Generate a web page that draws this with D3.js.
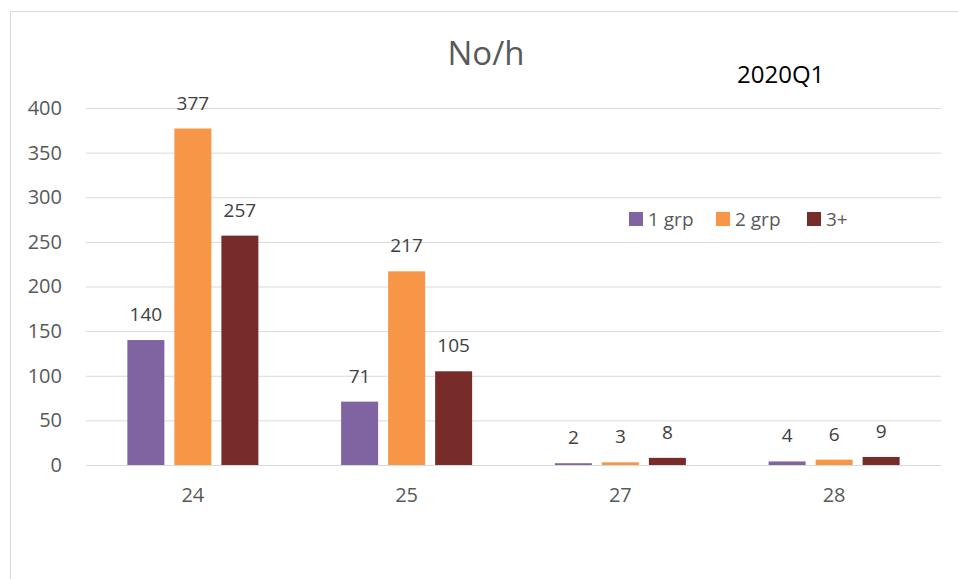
<!DOCTYPE html>
<html><head><meta charset="utf-8">
<script src="https://cdn.jsdelivr.net/npm/d3@7"></script>
<style>body{margin:0;background:#fff;}svg{display:block;font-family:"Open Sans",sans-serif;}</style>
</head><body>
<svg id="c" width="958" height="579"></svg>
<script>
const categories = ["24","25","27","28"];
const seriesNames = ["1 grp","2 grp","3+"];
const grp1 = [140,71,2,4];
const grp2 = [377,217,3,6];
const grp3 = [257,105,8,9];
const yTicks = [0,50,100,150,200,250,300,350,400];
const colors = ["#8064A2","#F79646","#772C2A"];
const seriesData = [grp1,grp2,grp3];

(function(){
const svg = d3.select("#c");
svg.append("rect").attr("x",10.5).attr("y",11.5).attr("width",960).attr("height",600)
  .attr("fill","#fff").attr("stroke","#d9d9d9");

const pL=86, pR=941, pT=108, pB=465;
const y = d3.scaleLinear().domain([0,400]).range([pB,pT]);
const x0 = d3.scaleBand().domain(categories).range([pL,pR]).padding(0);
const x1 = d3.scaleBand().domain(seriesNames).range([0,x0.bandwidth()]).paddingInner(10/47).paddingOuter(0.88);

const yAxis = d3.axisLeft(y).tickValues(yTicks).tickSize(-(pR-pL)).tickPadding(24);
const gy = svg.append("g").attr("transform",`translate(${pL},0)`).call(yAxis);
gy.select(".domain").remove();
gy.selectAll(".tick line").attr("stroke","#d9d9d9").attr("stroke-width",1);
gy.selectAll(".tick text").attr("fill","#595959").attr("font-size",20).attr("font-family","Open Sans, sans-serif");

categories.forEach((c,ci)=>{
  seriesNames.forEach((s,si)=>{
    const v = seriesData[si][ci];
    const bx = x0(c)+x1(s);
    svg.append("rect").attr("x",bx).attr("y",y(v)).attr("width",x1.bandwidth())
      .attr("height",y(0)-y(v)).attr("fill",colors[si]);
    svg.append("text").attr("x",bx+x1.bandwidth()/2).attr("y",y(v)-19)
      .attr("text-anchor","middle").attr("fill","#404040").attr("font-size",19).text(v);
  });
});

const xAxis = d3.axisBottom(x0).tickSize(0).tickPadding(23);
const gx = svg.append("g").attr("transform",`translate(0,${pB})`).call(xAxis);
gx.select(".domain").attr("stroke","#d9d9d9");
gx.selectAll(".tick text").attr("fill","#595959").attr("font-size",20).attr("font-family","Open Sans, sans-serif");

svg.append("text").attr("x",486).attr("y",65).attr("text-anchor","middle")
  .attr("fill","#595959").attr("font-size",33).text("No/h");
svg.append("text").attr("x",737).attr("y",83).attr("fill","#000")
  .attr("font-size",24).text("2020Q1");

const legendX = [629,716,807];
seriesNames.forEach((s,i)=>{
  svg.append("rect").attr("x",legendX[i]).attr("y",212).attr("width",14).attr("height",14).attr("fill",colors[i]);
  svg.append("text").attr("x",legendX[i]+19).attr("y",226).attr("fill","#595959").attr("font-size",19).text(s);
});
})();
</script>
</body></html>
